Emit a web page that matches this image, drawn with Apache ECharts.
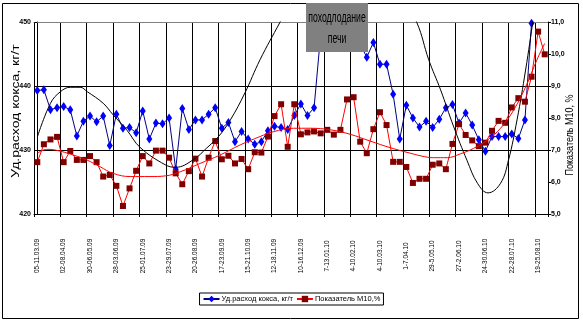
<!DOCTYPE html>
<html><head><meta charset="utf-8">
<script src="https://cdn.jsdelivr.net/npm/echarts@6/dist/echarts.min.js"></script>
<style>html,body{margin:0;padding:0;background:#fff}#c{width:583px;height:327px}</style>
</head><body><div id="c"></div>
<script>
const categories = [
"05-11.03.09","12-18.03.09","19-25.03.09","26-01.04.09","02-08.04.09","09-15.04.09","16-22.04.09","23-29.04.09",
"30-06.05.09","07-13.05.09","14-20.05.09","21-27.05.09","28-03.06.09","04-10.06.09","11-17.06.09","18-24.06.09",
"25-01.07.09","02-08.07.09","09-15.07.09","16-22.07.09","23-29.07.09","30-05.08.09","06-12.08.09","13-19.08.09",
"20-26.08.09","27-02.09.09","03-09.09.09","10-16.09.09","17-23.09.09","24-30.09.09","01-07.10.09","08-14.10.09",
"15-21.10.09","22-28.10.09","29-04.11.09","05-11.11.09","12-18.11.09","19-25.11.09","26-02.12.09","03-09.12.09",
"10-16.12.09","17-23.12.09","24-30.12.09","31-06.01.10","7-13.01.10","14-20.01.10","21-27.01.10","28-03.02.10",
"4-10.02.10","11-17.02.10","18-24.02.10","25-03.03.10","4-10.03.10","11-17.03.10","18-24.03.10","25-31.03.10",
"1-7.04.10","8-14.04.10","15-21.04.10","22-28.04.10","29-5.05.10","6-12.05.10","13-19.05.10","20-26.05.10",
"27-2.06.10","3-9.06.10","10-16.06.10","17-23.06.10","24-30.06.10","1-7.07.10","8-14.07.10","15-21.07.10",
"22-28.07.10","29-4.08.10","5-11.08.10","12-18.08.10","19-25.08.10","26-01.09.10"
];
const seriesNames = ["Уд.расход кокса, кг/т", "Показатель М10,%"];
const cokeRate = [
439.3,439.4,436.3,436.6,436.8,436.3,432.2,434.5,435.3,434.4,
435.3,430.7,435.6,433.4,433.5,432.7,436.1,431.7,434.2,434.1,
435.0,427.0,436.5,433.2,434.7,434.7,435.6,436.6,433.4,434.3,
431.3,432.9,431.7,430.9,431.3,433.0,433.7,433.5,433.2,435.4,
437.2,435.4,436.6,448.0,455,460,462,458,452,446.5,
444.5,446.8,443.4,443.4,438.7,431.7,437.0,435.0,433.6,434.5,
433.5,434.8,436.6,437.1,434.2,435.8,433.9,431.6,429.8,432.1,
432.1,432.1,432.5,431.8,434.7,449.8,null,null
];
const m10 = [
6.62,7.18,7.33,7.41,6.62,6.97,6.69,6.69,6.81,6.62,
6.17,6.22,5.88,5.25,5.80,6.35,6.81,6.58,6.98,6.98,
6.76,6.27,5.93,6.34,6.73,6.17,6.76,7.28,6.71,6.82,
6.58,6.72,6.40,6.93,6.92,7.42,8.06,8.43,7.10,8.43,
7.49,7.55,7.58,7.52,7.63,7.48,7.63,8.58,8.65,7.26,
6.90,7.65,8.18,7.78,6.63,6.63,6.47,5.97,6.10,6.10,
6.54,6.58,6.40,7.19,7.81,7.47,7.30,7.12,7.23,7.60,
7.91,7.85,8.33,8.62,8.51,9.29,10.70,9.99
];
// trend curves: [category position, value]
const cokeTrend = [[0,432.0],[2,437.3],[3.5,439.1],[5,439.8],[6.5,439.8],[7.6,439.1],[10,437.3],[11.5,435.5],[13.6,433.1],[15.6,430.4],[19.4,427.7],[21,427.3],[23.7,428.5],[25.7,430.3],[27.5,432.1],[29.3,434.7],[31.5,438.9],[33.8,444.1],[36.8,449.9],[40,456],[43,461],[46,463],[50,462],[54,457],[57.6,449.9],[59.4,444.1],[61.2,439.4],[63.2,433.6],[65.2,428.4],[66.8,424.8],[68.4,423.3],[70.3,424.8],[71.5,428.4],[72.8,434.7],[74.1,442.5],[75.3,450.8],[76,456]];
const m10Trend = [[0,6.90],[1.43,7.02],[2.7,7.0],[5.5,6.84],[7.5,6.69],[9.5,6.48],[11.5,6.27],[14.1,6.17],[17.1,6.17],[19.4,6.19],[21.7,6.32],[24.7,6.58],[27.7,6.84],[30.8,7.16],[33.8,7.42],[35.8,7.57],[38.9,7.68],[41.4,7.68],[44.5,7.63],[47.5,7.49],[50.5,7.28],[53.6,7.07],[56.6,6.90],[58.8,6.79],[60.1,6.76],[62.2,6.76],[64.2,6.88],[66.2,7.05],[68.3,7.31],[70.3,7.68],[72.3,8.25],[74.3,9.06],[75.8,9.81],[77,10.33]];
const leftTicks = {min:420, max:450, interval:10};
const rightTicks = {min:5, max:11, interval:1};
const annotation = ["походлодание", "печи"];
const leftTitle = "Уд.расход кокса, кг/т";
const rightTitle = "Показатель М10, %";

const FONT = "'Liberation Sans Narrow','Liberation Sans',sans-serif";
const chart = echarts.init(document.getElementById('c'), null, {renderer:'canvas'});
chart.setOption({
  animation:false,
  backgroundColor:'#fff',
  grid:{left:34, right:35, top:22, bottom:113},
  legend:{data:seriesNames, left:'center', top:293, orient:'horizontal', itemWidth:16, itemHeight:8, itemGap:3,
    padding:[2,3], borderColor:'#000', borderWidth:1, textStyle:{fontSize:7.5, fontFamily:FONT, color:'#000', padding:[0,0,0,-3]}},
  xAxis:[
    {type:'category', data:categories, boundaryGap:true, position:'bottom',
     axisLine:{lineStyle:{color:'#000', width:1}},
     axisTick:{show:true, interval:3, length:3, lineStyle:{color:'#000'}},
     axisLabel:{interval:3, rotate:90, fontSize:6.5, fontFamily:FONT, color:'#000', align:'center', verticalAlign:'middle', margin:42},
     splitLine:{show:true, interval:3, lineStyle:{color:'#000', width:1}}},
    {type:'value', min:-0.5, max:77.5, position:'top', show:true,
     axisLine:{show:true, lineStyle:{color:'#808080', width:1}}, axisTick:{show:false}, axisLabel:{show:false}, splitLine:{show:false}}
  ],
  yAxis:[
    {type:'value', min:leftTicks.min, max:leftTicks.max, interval:leftTicks.interval, position:'left',
     axisLine:{show:true, lineStyle:{color:'#000'}}, axisTick:{show:true, length:3, lineStyle:{color:'#000'}},
     axisLabel:{fontSize:7, fontWeight:'bold', fontFamily:FONT, color:'#000', margin:3},
     splitLine:{show:true, showMinLine:false, showMaxLine:false, lineStyle:{color:'#000', width:1}}},
    {type:'value', min:rightTicks.min, max:rightTicks.max, interval:rightTicks.interval, position:'right',
     axisLine:{show:true, lineStyle:{color:'#000'}}, axisTick:{show:true, length:3, lineStyle:{color:'#000'}},
     axisLabel:{fontSize:7, fontWeight:'bold', fontFamily:FONT, color:'#000', margin:3, formatter:v=>v.toFixed(1).replace('.',',')},
     splitLine:{show:false}}
  ],
  series:[
    {name:seriesNames[0], type:'line', xAxisIndex:0, yAxisIndex:0, data:cokeRate, symbol:'diamond', symbolSize:[6,9],
     showAllSymbol:true, clip:true, itemStyle:{color:'#0000FF'}, lineStyle:{color:'#000080', width:1}, z:3},
    {name:seriesNames[1], type:'line', xAxisIndex:0, yAxisIndex:1, data:m10, symbol:'rect', symbolSize:6,
     showAllSymbol:true, clip:true, itemStyle:{color:'#800000'}, lineStyle:{color:'#FF0000', width:1}, z:4},
    {name:'trend1', type:'line', xAxisIndex:1, yAxisIndex:0, data:cokeTrend, smooth:0.4, showSymbol:false, clip:true,
     silent:true, lineStyle:{color:'#000', width:1}, z:5},
    {name:'trend2', type:'line', xAxisIndex:1, yAxisIndex:1, data:m10Trend, smooth:0.4, showSymbol:false, clip:true,
     silent:true, lineStyle:{color:'#FF0000', width:1}, z:5}
  ],
  graphic:[
    {type:'rect', shape:{x:2.5, y:3.5, width:576, height:315}, style:{fill:'none', stroke:'#000', lineWidth:1}, z:0, silent:true},
    {type:'rect', shape:{x:306, y:3, width:62, height:49}, style:{fill:'#808080', stroke:'none'}, z:100},
    {type:'text', x:337, y:18, scaleX:0.62, z:101, style:{text:annotation[0], fill:'#000', font:'14px '+FONT, textAlign:'center', textVerticalAlign:'middle'}},
    {type:'text', x:337, y:39, scaleX:0.62, z:101, style:{text:annotation[1], fill:'#000', font:'14px '+FONT, textAlign:'center', textVerticalAlign:'middle'}},
    {type:'text', x:16, y:111, rotation:Math.PI/2, scaleX:1.4, z:101, style:{text:leftTitle, fill:'#000', font:'10px '+FONT, textAlign:'center', textVerticalAlign:'middle'}},
    {type:'text', x:570, y:135, rotation:Math.PI/2, scaleX:0.9, z:101, style:{text:rightTitle, fill:'#000', font:'10px '+FONT, textAlign:'center', textVerticalAlign:'middle'}}
  ]
});
</script></body></html>
